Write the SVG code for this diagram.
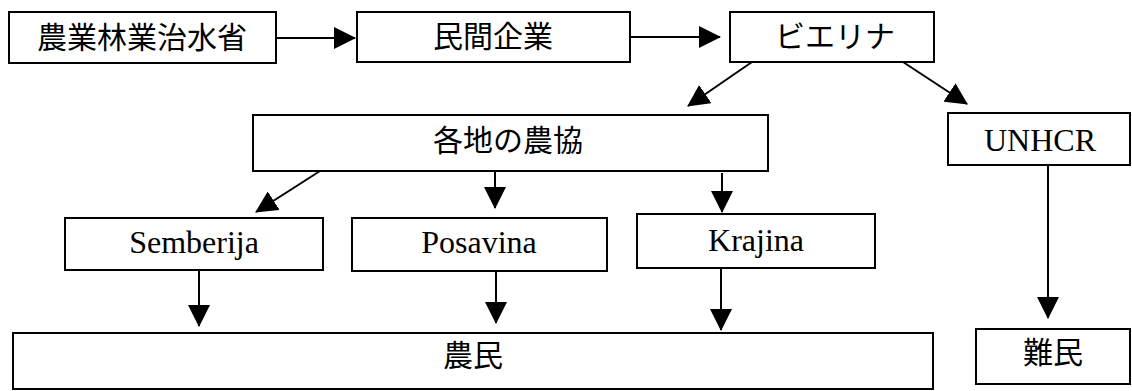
<svg xmlns="http://www.w3.org/2000/svg" width="1132" height="391" viewBox="0 0 1132 391">
<style>
.box{fill:#fff;stroke:#000;stroke-width:2}
.jp{font-family:"Noto Sans CJK JP","Noto Sans",sans-serif;font-size:30px;fill:#000;text-anchor:middle}
.en{font-family:"Liberation Serif",serif;font-size:32px;fill:#000;text-anchor:middle}
.con{stroke:#000;stroke-width:2;fill:none;marker-end:url(#ah)}
</style>
<defs>
<marker id="ah" markerUnits="userSpaceOnUse" markerWidth="22" markerHeight="22" refX="21" refY="11" orient="auto" viewBox="0 0 22 22">
<path d="M0,0 L22,11 L0,22 z" fill="#000"/>
</marker>
</defs>
<rect width="1132" height="391" fill="#fff"/>
<g id="connectors">
<line class="con" x1="276" y1="38" x2="355" y2="38"/>
<line class="con" x1="630" y1="37" x2="720" y2="37"/>
<line class="con" x1="752" y1="62" x2="688" y2="106"/>
<line class="con" x1="903" y1="62" x2="967" y2="104"/>
<line class="con" x1="320" y1="171" x2="256" y2="212"/>
<line class="con" x1="495" y1="171" x2="495" y2="208"/>
<line class="con" x1="722" y1="173" x2="722" y2="212"/>
<line class="con" x1="199" y1="270" x2="199" y2="326"/>
<line class="con" x1="496" y1="271" x2="496" y2="323"/>
<line class="con" x1="721" y1="268" x2="721" y2="330"/>
<line class="con" x1="1048" y1="165" x2="1048" y2="318"/>
</g>
<g id="n1"><rect class="box" x="9" y="12" width="267" height="51"/><text class="jp" x="142" y="48">農業林業治水省</text></g>
<g id="n2"><rect class="box" x="357" y="12" width="273" height="50"/><text class="jp" x="493" y="47">民間企業</text></g>
<g id="n3"><rect class="box" x="730" y="12" width="204" height="50"/><text class="jp" x="835" y="47">ビエリナ</text></g>
<g id="n4"><rect class="box" x="253" y="115" width="515" height="56"/><text class="jp" x="508" y="151">各地の農協</text></g>
<g id="n5"><rect class="box" x="948" y="113" width="182" height="52"/><text class="en" x="1040" y="151">UNHCR</text></g>
<g id="n6"><rect class="box" x="65" y="218" width="258" height="52"/><text class="en" x="194" y="253">Semberija</text></g>
<g id="n7"><rect class="box" x="352" y="218" width="255" height="53"/><text class="en" x="479" y="253">Posavina</text></g>
<g id="n8"><rect class="box" x="637" y="214" width="238" height="54"/><text class="en" x="756" y="251">Krajina</text></g>
<g id="n9"><rect class="box" x="13" y="333" width="920" height="56"/><text class="jp" x="473" y="366">農民</text></g>
<g id="n10"><rect class="box" x="976" y="329" width="154" height="55"/><text class="jp" x="1053" y="363">難民</text></g>
</svg>
